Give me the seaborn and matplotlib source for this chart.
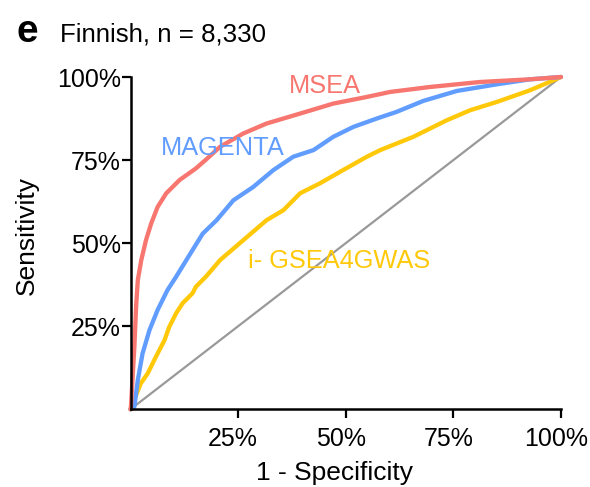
import matplotlib
matplotlib.use("Agg")
import matplotlib.pyplot as plt
import matplotlib.transforms as mtransforms
import seaborn as sns
import pandas as pd

# ---- data ----
msea_fpr = [0, 0.001, 0.005, 0.009, 0.013, 0.017, 0.025, 0.036, 0.048, 0.063, 0.083, 0.114,
            0.152, 0.175, 0.208, 0.262, 0.316, 0.394, 0.471, 0.549, 0.603, 0.696, 0.812,
            0.928, 1.0]
msea_tpr = [0, 0.008, 0.098, 0.188, 0.309, 0.389, 0.449, 0.509, 0.559, 0.609, 0.650, 0.690,
            0.725, 0.751, 0.790, 0.830, 0.860, 0.890, 0.920, 0.940, 0.955, 0.970, 0.985,
            0.993, 1.0]

magenta_fpr = [0, 0.009, 0.017, 0.028, 0.044, 0.063, 0.086, 0.106, 0.125, 0.144, 0.168,
               0.200, 0.239, 0.285, 0.332, 0.378, 0.425, 0.471, 0.518, 0.572, 0.618, 0.680,
               0.758, 0.851, 0.928, 1.0]
magenta_tpr = [0, 0.008, 0.088, 0.168, 0.238, 0.299, 0.359, 0.399, 0.439, 0.479, 0.529,
               0.569, 0.629, 0.669, 0.720, 0.760, 0.780, 0.820, 0.850, 0.875, 0.895, 0.928,
               0.958, 0.978, 0.993, 1.0]

igsea_fpr = [0, 0.024, 0.040, 0.059, 0.079, 0.090, 0.106, 0.121, 0.144, 0.152, 0.175,
             0.195, 0.208, 0.262, 0.316, 0.355, 0.394, 0.440, 0.494, 0.549, 0.580, 0.657,
             0.735, 0.789, 0.851, 0.928, 1.0]
igsea_tpr = [0, 0.078, 0.108, 0.158, 0.208, 0.248, 0.289, 0.319, 0.349, 0.369, 0.399,
             0.429, 0.449, 0.509, 0.569, 0.599, 0.650, 0.680, 0.720, 0.760, 0.780, 0.820,
             0.870, 0.900, 0.925, 0.960, 1.0]

diag = [0, 1]

tick_vals = [0.25, 0.5, 0.75, 1.0]
tick_labels = ["25%", "50%", "75%", "100%"]

colors = {"MSEA": "#F7766F", "MAGENTA": "#619CFF", "i- GSEA4GWAS": "#FFC90A"}

# ---- plot ----
sns.set_style("ticks")
plt.rcParams["font.family"] = ["Liberation Sans", "DejaVu Sans"]
plt.rcParams["text.color"] = "black"
plt.rcParams["axes.labelcolor"] = "black"
plt.rcParams["xtick.color"] = "black"
plt.rcParams["ytick.color"] = "black"
FS_TICK = 18
FS_LAB = 19
FS_CURVE = 18.3
FS_TITLE = 18.6

fig = plt.figure(figsize=(5.9, 4.87), dpi=100)
ax = fig.add_axes([130.5 / 590, (487 - 409.3) / 487, 430.5 / 590, 332.3 / 487])

sns.lineplot(x=diag, y=diag, ax=ax, color="#999999", linewidth=1.6, clip_on=False)

df = pd.concat([
    pd.DataFrame({"fpr": igsea_fpr, "tpr": igsea_tpr, "method": "i- GSEA4GWAS"}),
    pd.DataFrame({"fpr": magenta_fpr, "tpr": magenta_tpr, "method": "MAGENTA"}),
    pd.DataFrame({"fpr": msea_fpr, "tpr": msea_tpr, "method": "MSEA"}),
])
for m in ["i- GSEA4GWAS", "MAGENTA", "MSEA"]:
    sub = df[df["method"] == m]
    sns.lineplot(data=sub, x="fpr", y="tpr", sort=False, estimator=None, ax=ax,
                 color=colors[m], linewidth=3.1, clip_on=False, solid_joinstyle="round")

ax.set_xlim(0, 1)
ax.set_ylim(0, 1)
ax.set_xticks(tick_vals)
ax.set_xticklabels(tick_labels)
ax.set_yticks(tick_vals)
ax.set_yticklabels(tick_labels)
ax.tick_params(axis="both", labelsize=FS_TICK, width=1.6, length=6.5, color="black",
               labelcolor="black")
ax.tick_params(axis="x", pad=6)
ax.tick_params(axis="y", pad=0.5)
for s in ["left", "bottom"]:
    ax.spines[s].set_linewidth(1.8)
    ax.spines[s].set_color("black")
for s in ["top", "right"]:
    ax.spines[s].set_visible(False)

# x tick labels sit slightly left of their ticks in the reference
shift = mtransforms.ScaledTranslation(-5 / 100, 0, fig.dpi_scale_trans)
for lab in ax.get_xticklabels():
    lab.set_transform(lab.get_transform() + shift)

ax.set_xlabel("1 - Specificity", fontsize=FS_LAB, color="black")
ax.set_ylabel("Sensitivity", fontsize=FS_LAB, color="black")
ax.xaxis.set_label_coords(0.475, -0.157)
ax.yaxis.set_label_coords(-0.212, 0.5245)

ax.text(0.367, 0.953, "MSEA", color=colors["MSEA"], fontsize=FS_CURVE, ha="left", va="baseline")
ax.text(0.070, 0.765, "MAGENTA", color=colors["MAGENTA"], fontsize=FS_CURVE, ha="left", va="baseline")
ax.text(0.274, 0.424, "i- GSEA4GWAS", color=colors["i- GSEA4GWAS"], fontsize=FS_CURVE,
        ha="left", va="baseline")

fig.text(17 / 590, (487 - 41.7) / 487, "e", fontsize=28, fontweight="bold", color="black",
         ha="left", va="baseline")
fig.text(60 / 590, (487 - 41.7) / 487, "Finnish, n = 8,330", fontsize=FS_TITLE, color="black",
         ha="left", va="baseline")

fig.savefig("out.png", dpi=100)
